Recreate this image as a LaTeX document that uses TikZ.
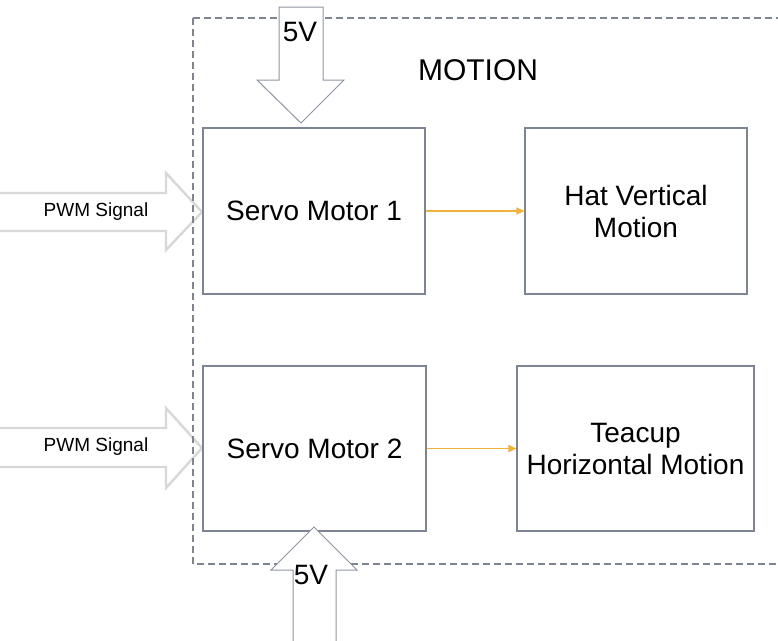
\documentclass[tikz,border=0pt]{standalone}
\usepackage{fontspec}
\setmainfont{Liberation Sans}
\usetikzlibrary{arrows.meta}
\definecolor{boxline}{HTML}{7D8595}
\definecolor{dashline}{HTML}{7E8490}
\definecolor{feedline}{HTML}{8E95A2}
\definecolor{pwmline}{HTML}{D8D8D8}
\definecolor{linkline}{HTML}{F0B23A}
\begin{document}
\begin{tikzpicture}[x=1pt,y=-1pt,
  block/.style={draw=boxline,line width=1.1pt,fill=white,align=center,
    font=\fontsize{28}{32}\selectfont,inner sep=0pt},
  groupbox/.style={draw=dashline,line width=1.2pt,dash pattern=on 7pt off 4pt},
  supply/.style={draw=feedline,line width=1pt,fill=white,line join=miter},
  pwm/.style={draw=pwmline,line width=2.4pt,line join=miter},
  link/.style={draw=linkline,line width=1.4pt,-{Triangle[length=8pt,width=7pt]}},
  lbl/.style={inner sep=0pt}]
\useasboundingbox (0,0) rectangle (778,640);
\fill[white] (0,0) rectangle (778,640);

% PWM input arrows, drawn under the dashed group outline
\draw[pwm] (0,193) -- (166,193) -- (166,173) -- (202,212) -- (166,250) -- (166,231) -- (0,231);
\draw[pwm] (0,428) -- (166,428) -- (166,408) -- (202,448) -- (166,488) -- (166,467) -- (0,467);
\node[lbl,font=\fontsize{19}{22}\selectfont] (pwm1) at (96,212) {PWM Signal};
\node[lbl,font=\fontsize{19}{22}\selectfont] (pwm2) at (96,447) {PWM Signal};

% dashed group outline
\draw[groupbox] (193,18) -- (790,18);
\draw[groupbox] (193,18) -- (193,564) -- (790,564);
\node[lbl,font=\fontsize{30}{36}\selectfont] (title) at (478,70) {MOTION};

% blocks
\node[block,minimum width=222pt,minimum height=166pt] (servo1) at (314,211) {Servo Motor 1};
\node[block,minimum width=222pt,minimum height=166pt] (hat) at (636,211) {Hat Vertical\\Motion};
\node[block,minimum width=223pt,minimum height=165pt] (servo2) at (314.5,448.5) {Servo Motor 2};
\node[block,minimum width=237pt,minimum height=165pt] (cup) at (635.5,448.5) {Teacup\\Horizontal Motion};

% 5 V supply arrows
\draw[supply] (279,7) -- (323,7) -- (323,80) -- (344,80) -- (301,123) -- (257,80) -- (279,80) -- cycle;
\node[lbl,font=\fontsize{28}{32}\selectfont] (vtop) at (300,32) {5V};
\fill[white] (293,570) rectangle (336,641);
\draw[supply] (293,641) -- (293,570) -- (271,570) -- (314,527) -- (357,570) -- (336,570) -- (336,641);
\node[lbl,font=\fontsize{28}{32}\selectfont] (vbot) at (311,575) {5V};

% connectors
\draw[link] (servo1.east) -- (hat.west);
\draw[link] (servo2.east) -- (cup.west);
\end{tikzpicture}
\end{document}
